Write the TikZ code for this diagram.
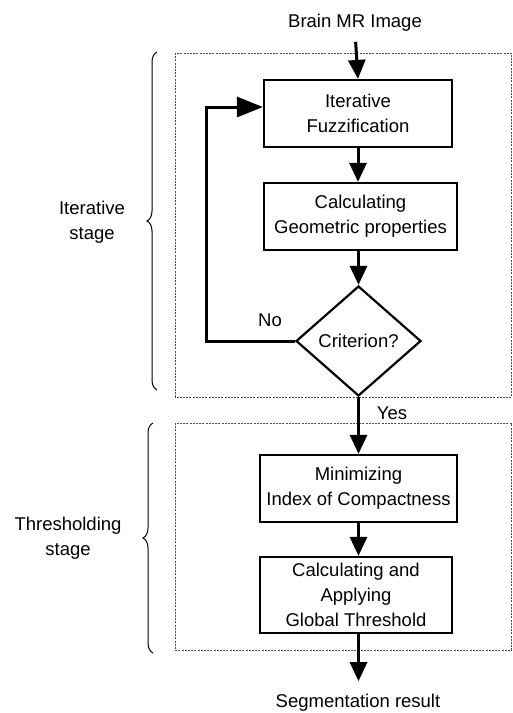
\documentclass[tikz,border=0pt]{standalone}
\usepackage{fontspec}
\setmainfont{Liberation Sans}
\usetikzlibrary{arrows.meta,shapes.geometric,decorations.pathreplacing}
\begin{document}
\begin{tikzpicture}[x=1pt,y=-1pt,
  every node/.style={font=\fontsize{18.5}{25}\selectfont, align=center, inner sep=0pt},
  proc/.style={draw, line width=2.2pt, minimum height=67pt},
  dec/.style={draw, line width=2.2pt, diamond, minimum width=125pt, minimum height=110pt},
  flow/.style={line width=3pt, -{Triangle[length=19pt,width=17pt]}},
  loopflow/.style={line width=3pt, -{Triangle[length=26pt,width=20pt]}},
  stagebox/.style={draw=black!70, line width=1pt, dash pattern=on 2pt off 1.2pt},
  stagebrace/.style={draw, line width=1pt, decorate, decoration={brace, amplitude=10pt}}
]
\useasboundingbox (0,0) rectangle (513,713);
\fill[white] (0,0) rectangle (513,713);

% stage boxes
\draw[stagebox] (175,53) rectangle (511.5,397);
\draw[stagebox] (175,423) rectangle (511.5,650);

% braces
\draw[stagebrace] (157,390) -- (157,52);
\draw[stagebrace] (153,653) -- (153,423);
\node (itstage) at (92,222) {Iterative\\stage};
\node (thstage) at (68,538) {Thresholding\\stage};

% nodes
\node (in) at (355,23) {Brain MR Image};
\node[proc, minimum width=188pt] (fuzz) at (358,113.5) {Iterative\\Fuzzification};
\node[proc, minimum width=193pt] (geom) at (360.5,216.5) {Calculating\\Geometric properties};
\node[dec] (crit) at (358.5,341) {Criterion?};
\node[proc, minimum width=197pt] (mini) at (358.5,488.5) {Minimizing\\Index of Compactness};
\node[proc, minimum width=192pt, minimum height=76pt] (glob) at (356,595) {Calculating and\\Applying\\Global Threshold};
\node (out) at (358,703) {Segmentation result};

% connectors
\draw[flow, shorten <=10pt] (in.south) -- (fuzz.north);
\draw[flow] (fuzz.south) -- (geom.north -| fuzz.south);
\draw[flow] (geom.south -| crit.north) -- (crit.north);
\draw[flow] (crit.south) -- (mini.north -| crit.south);
\draw[flow] (mini.south -| crit.south) -- (glob.north -| crit.south);
\draw[flow, shorten >=13pt] (glob.south -| crit.south) -- (out.north -| crit.south);

\coordinate (lb) at (206,341);
\coordinate (lt) at (206,107);
\draw[loopflow, line join=miter] (crit.west) -- (lb) -- (lt) -- (lt -| fuzz.west);

\node (no) at (270,320) {No};
\node (yes) at (392,413) {Yes};
\end{tikzpicture}
\end{document}
